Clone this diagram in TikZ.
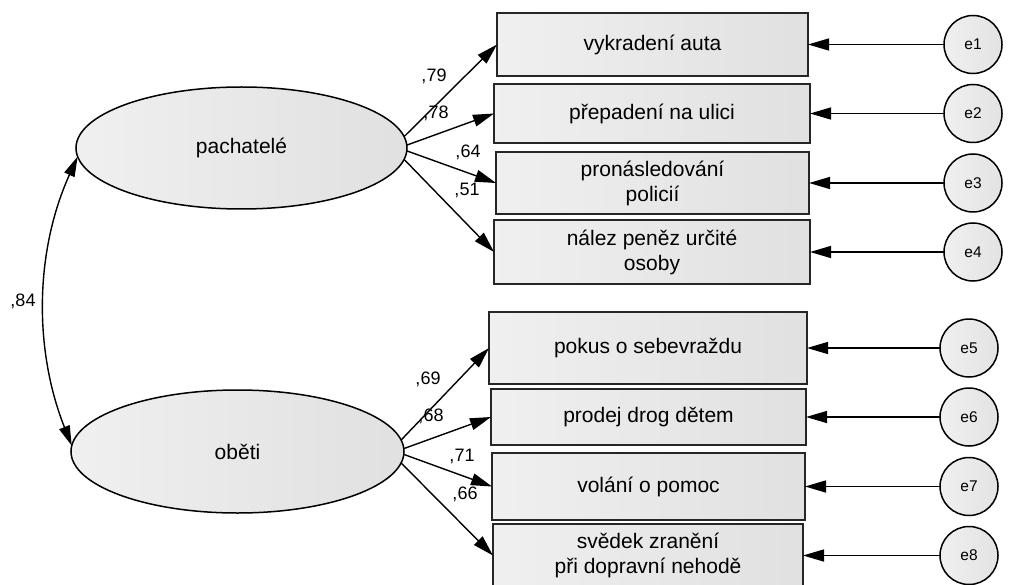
\documentclass[tikz,border=0pt]{standalone}
\usepackage{fontspec}
\setmainfont{Liberation Sans}
\usetikzlibrary{arrows.meta,shapes.geometric}
\begin{document}
\begin{tikzpicture}[x=1pt,y=-1pt,
  box/.style={draw=black!85,line width=1.6pt,left color=gray!12,right color=gray!24,
    inner sep=0pt,outer sep=0pt,align=center,font=\fontsize{21}{25}\selectfont},
  latent/.style={ellipse,draw=black,line width=1.5pt,left color=gray!12,right color=gray!24,
    inner sep=0pt,outer sep=0pt,font=\fontsize{21}{25}\selectfont},
  err/.style={circle,draw=black,line width=1.5pt,left color=gray!12,right color=gray!22,
    minimum size=58pt,inner sep=0pt,outer sep=0pt,font=\fontsize{15.5}{18}\selectfont},
  lab/.style={font=\fontsize{18}{20}\selectfont,inner sep=0pt},
  arr/.style={line width=1.4pt,-{Triangle[length=21pt,width=12pt]}},
  darr/.style={line width=1.4pt,{Triangle[length=20pt,width=11pt]}-{Triangle[length=20pt,width=11pt]}}
]
\useasboundingbox[fill=white] (0,0) rectangle (1024,585);

% latent variables
\node[latent,minimum width=331pt,minimum height=122pt] (pach) at (241.5,148) {pachatelé};
\node[latent,minimum width=333pt,minimum height=123pt] (obeti) at (237.5,451.5) {oběti};

% indicators
\node[box,minimum width=311pt,minimum height=63pt] (b1) at (652.5,44.5) {vykradení auta};
\node[box,minimum width=316pt,minimum height=59pt] (b2) at (652,113.5) {přepadení na ulici};
\node[box,minimum width=313pt,minimum height=62pt] (b3) at (652.5,183) {pronásledování\\policií};
\node[box,minimum width=316pt,minimum height=64pt] (b4) at (652,252) {nález peněz určité\\osoby};
\node[box,minimum width=318pt,minimum height=72pt] (b5) at (648,348) {pokus o sebevraždu};
\node[box,minimum width=315pt,minimum height=56pt] (b6) at (648.5,417) {prodej drog dětem};
\node[box,minimum width=313pt,minimum height=67pt] (b7) at (648.5,486.5) {volání o pomoc};
\node[box,minimum width=310pt,minimum height=63pt] (b8) at (648,555.5) {svědek zranění\\při dopravní nehodě};

% errors
\node[err] (e1) at (973,44.5) {e1};
\node[err] (e2) at (973,113.5) {e2};
\node[err] (e3) at (973,183) {e3};
\node[err] (e4) at (973,252) {e4};
\node[err] (e5) at (969,348) {e5};
\node[err] (e6) at (969,417) {e6};
\node[err] (e7) at (969,486.5) {e7};
\node[err] (e8) at (969,555.5) {e8};

% error arrows
\foreach \i in {1,...,8} \draw[arr] (e\i.west) -- (b\i.east);

% loadings
\draw[arr] (pach.4.5) -- (b1.west);
\draw[arr] (pach.1.7) -- (b2.west);
\draw[arr] (pach.-1.7) -- (b3.west);
\draw[arr] (pach.-4) -- (b4.west);
\draw[arr] (obeti.4.3) -- (b5.west);
\draw[arr] (obeti.1.9) -- (b6.west);
\draw[arr] (obeti.-1.9) -- (b7.west);
\draw[arr] (obeti.-4.7) -- (b8.west);

% covariance
\draw[darr] (pach.183) .. controls +(-43,95) and +(-38,-96) .. (obeti.178);

% labels
\node[lab] (l79) at (434,76) {,79};
\node[lab] (l78) at (436,113) {,78};
\node[lab] (l64) at (468,152) {,64};
\node[lab] (l51) at (467,190) {,51};
\node[lab] (l69) at (428,379) {,69};
\node[lab] (l68) at (431,416) {,68};
\node[lab] (l71) at (462,456) {,71};
\node[lab] (l66) at (465,494) {,66};
\node[lab] (l84) at (23,301) {,84};
\end{tikzpicture}
\end{document}
